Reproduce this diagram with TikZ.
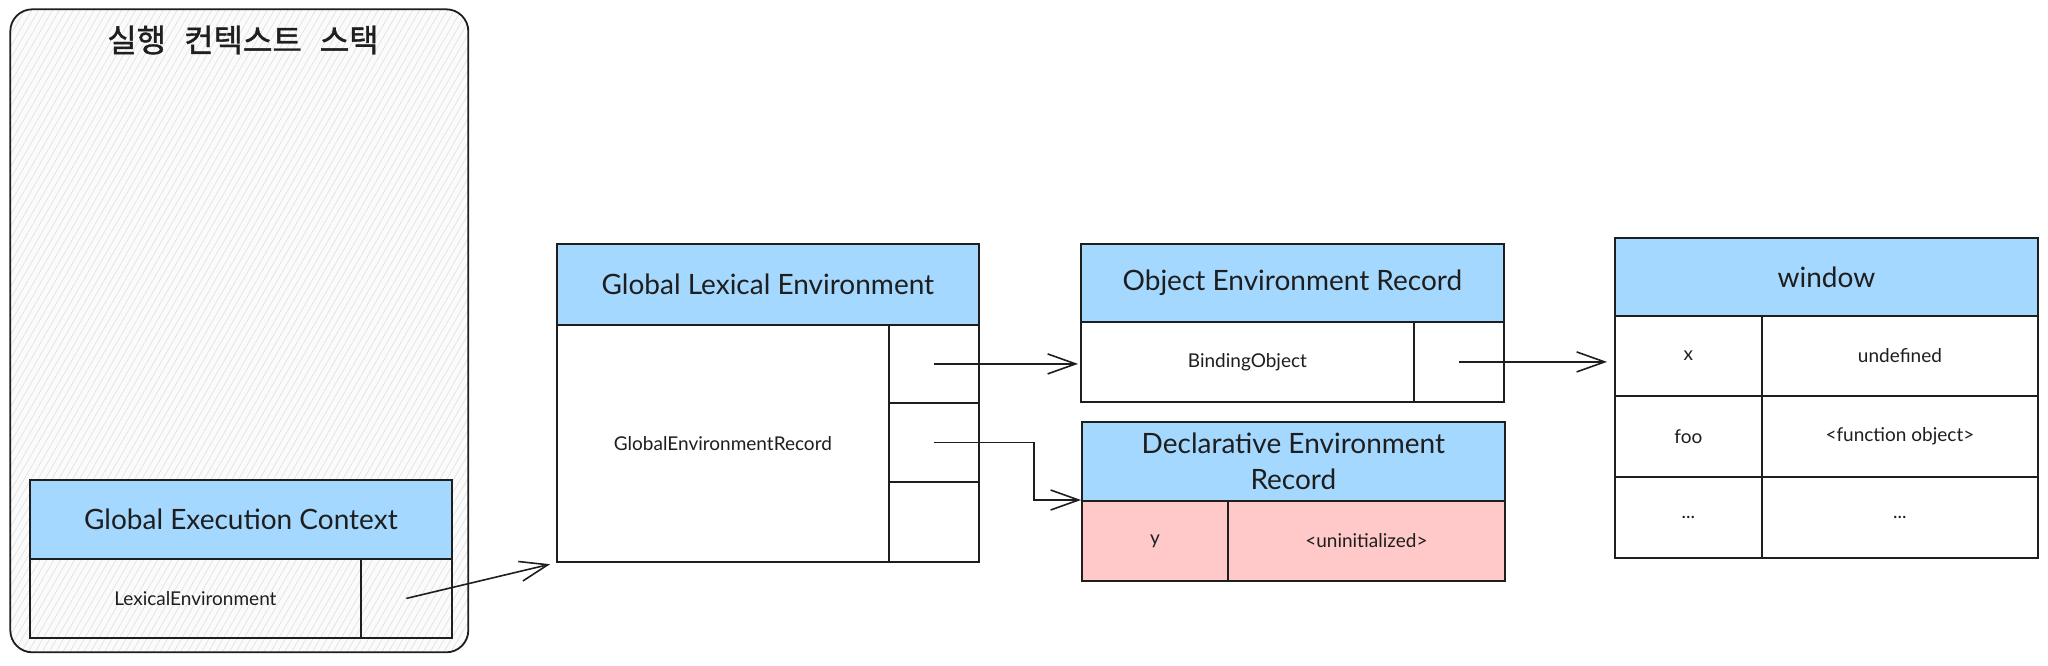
\documentclass[tikz,border=0pt]{standalone}
\usepackage{fontspec}
\setmainfont{Lato}
\newfontfamily\cjk[WordSpace=2.5,FakeBold=1.2]{Noto Sans CJK KR}
\usetikzlibrary{arrows.meta,patterns.meta}
\definecolor{hdrblue}{HTML}{A5D8FF}
\definecolor{tdzpink}{HTML}{FFC9C9}
\definecolor{ink}{HTML}{1E1E1E}

\begin{document}
\begin{tikzpicture}[x=1pt, y=-1pt,
  box/.style={draw=ink, line width=1.8pt, anchor=north west, inner sep=0pt, text=ink},
  hdr/.style={box, fill=hdrblue, font=\fontsize{28}{36}\selectfont, align=center},
  cell/.style={box, fill=white, font=\fontsize{19}{23}\selectfont},
  bare/.style={box, font=\fontsize{19}{23}\selectfont},
  tdz/.style={cell, fill=tdzpink},
  ptr/.style={draw=ink, line width=1.6pt, -{Straight Barb[length=28pt,width=20pt,line width=1.6pt]}}]
  \useasboundingbox (0,0) rectangle (2048,665);

  % execution context stack
  \node[box, rounded corners=22pt, preaction={fill=gray!3}, pattern={Lines[angle=60, distance=6pt, line width=0.6pt]}, pattern color=gray!25,
        minimum width=458pt, minimum height=643pt] (stack) at (10,9) {};
  \node[text=ink, font=\cjk\fontsize{32}{38}\selectfont] (title) at (243,40) {실행 컨텍스트 스택};
  \node[hdr, minimum width=422pt, minimum height=79pt] (gec) at (29,479) {Global Execution Context};
  \node[bare, minimum width=331pt, minimum height=79pt] (lexenv) at (29,558) {LexicalEnvironment};
  \node[bare, minimum width=91pt, minimum height=79pt] (lexptr) at (360,558) {};

  % global lexical environment
  \node[hdr, minimum width=422pt, minimum height=81pt] (gle) at (556,243) {Global Lexical Environment};
  \node[cell, minimum width=332pt, minimum height=237pt] (gerec) at (556,324) {GlobalEnvironmentRecord};
  \node[cell, minimum width=90pt, minimum height=78pt] (gleptrA) at (888,324) {};
  \node[cell, minimum width=90pt, minimum height=79pt] (gleptrB) at (888,402) {};
  \node[cell, minimum width=90pt, minimum height=80pt] (gleptrC) at (888,481) {};

  % object / declarative records
  \node[hdr, minimum width=423pt, minimum height=78pt] (oer) at (1080,243) {Object Environment Record};
  \node[cell, minimum width=333pt, minimum height=80pt] (bindobj) at (1080,321) {BindingObject};
  \node[cell, minimum width=90pt, minimum height=80pt] (bindptr) at (1413,321) {};
  \node[hdr, minimum width=423pt, minimum height=79pt] (der) at (1081,421) {Declarative Environment\\Record};
  \node[tdz, minimum width=146pt, minimum height=80pt] (dery) at (1081,500) {y};
  \node[tdz, minimum width=277pt, minimum height=80pt] (deryval) at (1227,500) {<uninitialized>};

  % window object
  \node[hdr, minimum width=423pt, minimum height=78pt] (win) at (1614,237) {window};
  \node[cell, minimum width=147pt, minimum height=80pt] (winx) at (1614,315) {x};
  \node[cell, minimum width=276pt, minimum height=80pt] (winxval) at (1761,315) {undefined};
  \node[cell, minimum width=147pt, minimum height=81pt] (winfoo) at (1614,395) {foo};
  \node[cell, minimum width=276pt, minimum height=81pt] (winfooval) at (1761,395) {<function object>};
  \node[cell, minimum width=147pt, minimum height=81pt] (winetc) at (1614,476) {...};
  \node[cell, minimum width=276pt, minimum height=81pt] (winetcval) at (1761,476) {...};

  % pointers
  \draw[ptr, shorten >=6pt] (lexptr.center) -- (gerec.south west);
  \draw[ptr, shorten >=2pt] (gleptrA.center) -- (gleptrA.center -| bindobj.west);
  \draw[ptr] (gleptrB.center) -- ++(100,0) |- (dery.north west);
  \draw[ptr, shorten >=7pt] (bindptr.center) -- (bindptr.center -| winx.west);
\end{tikzpicture}
\end{document}
